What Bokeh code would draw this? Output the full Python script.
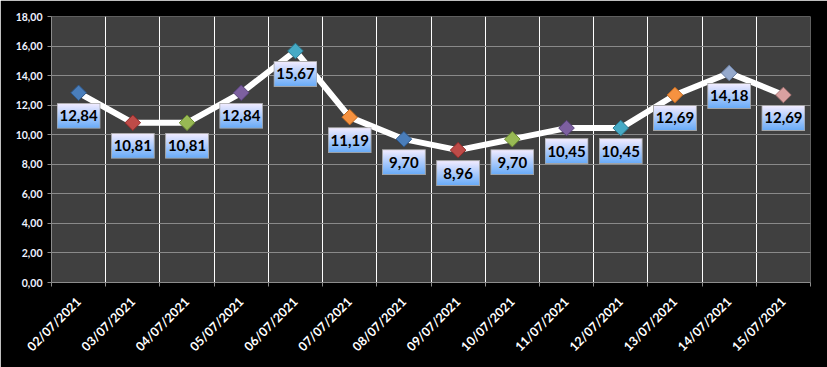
import base64
import numpy as np
from bokeh.plotting import figure
from bokeh.models import ColumnDataSource, Range1d, FixedTicker, LabelSet
from bokeh.core.properties import value
from bokeh.embed import file_html
from bokeh.resources import INLINE

# ---- data ----
dates = ["02/07/2021", "03/07/2021", "04/07/2021", "05/07/2021", "06/07/2021",
         "07/07/2021", "08/07/2021", "09/07/2021", "10/07/2021", "11/07/2021",
         "12/07/2021", "13/07/2021", "14/07/2021", "15/07/2021"]
values = [12.84, 10.81, 10.81, 12.84, 15.67, 11.19, 9.70, 8.96, 9.70, 10.45,
          10.45, 12.69, 14.18, 12.69]
y_ticks = [0, 2, 4, 6, 8, 10, 12, 14, 16, 18]
y_tick_labels = ["0,00", "2,00", "4,00", "6,00", "8,00", "10,00", "12,00",
                 "14,00", "16,00", "18,00"]
marker_fill = ["#4a7ebb", "#be4b48", "#98b954", "#7d60a0", "#46aac5", "#f69240",
               "#4a7ebb", "#be4b48", "#98b954", "#7d60a0", "#46aac5", "#f69240",
               "#95a9cc", "#d9a0a0"]
marker_line = ["#2c5586", "#8c2a28", "#6b8a33", "#564079", "#2a7b92", "#c06a20",
               "#2c5586", "#8c2a28", "#6b8a33", "#564079", "#2a7b92", "#c06a20",
               "#6a7fa3", "#a87575"]

n = len(dates)
xs = [i + 0.5 for i in range(n)]
labels = [f"{v:.2f}".replace(".", ",") for v in values]

# style constants
LABEL_PX = 23
Y_MAX = 18
FRAME_H = 266
dy = LABEL_PX * Y_MAX / FRAME_H

svg = ('<svg xmlns="http://www.w3.org/2000/svg" width="44" height="26">'
       '<defs><linearGradient id="g" x1="0" y1="0" x2="0" y2="1">'
       '<stop offset="0" stop-color="#f3ecff"/><stop offset="1" stop-color="#66aaf8"/>'
       '</linearGradient></defs>'
       '<rect x="0.5" y="0.5" width="43" height="25" fill="url(#g)" stroke="#a6a6a6" stroke-width="1"/>'
       '</svg>')
url = "data:image/svg+xml;base64," + base64.b64encode(svg.encode()).decode()

src = ColumnDataSource(dict(
    x=xs, y=values, lab=labels, fc=marker_fill, lc=marker_line,
    by=[v - dy for v in values], url=[url] * n,
))

p = figure(width=827, height=367, output_backend="svg", toolbar_location=None,
           x_range=Range1d(0, n), y_range=Range1d(0, Y_MAX),
           min_border_left=51, min_border_right=17, min_border_top=16,
           min_border_bottom=85)
p.background_fill_color = "#404040"
p.border_fill_color = "#000000"
p.outline_line_color = None

# axes
p.xaxis.ticker = FixedTicker(ticks=xs, minor_ticks=list(range(n + 1)))
p.xaxis.major_label_overrides = {x: d for x, d in zip(xs, dates)}
p.xaxis.major_label_orientation = np.pi / 4
p.xaxis.major_tick_line_color = None
p.xaxis.minor_tick_line_color = "#8c8c8c"
p.xaxis.minor_tick_in = 0
p.xaxis.minor_tick_out = 4
p.xaxis.axis_line_color = "#8c8c8c"
p.xaxis.major_label_text_color = "#ffffff"
p.xaxis.major_label_text_font = "Lato"
p.xaxis.major_label_text_font_style = "bold"
p.xaxis.major_label_text_font_size = "12.5px"
p.xaxis.major_label_standoff = 11

p.yaxis.ticker = FixedTicker(ticks=y_ticks, minor_ticks=[])
p.yaxis.major_label_overrides = {t: s for t, s in zip(y_ticks, y_tick_labels)}
p.yaxis.major_tick_line_color = "#8c8c8c"
p.yaxis.major_tick_in = 0
p.yaxis.major_tick_out = 4
p.yaxis.axis_line_color = "#8c8c8c"
p.yaxis.major_label_text_color = "#eef2ff"
p.yaxis.major_label_text_font = "Lato"
p.yaxis.major_label_text_font_style = "bold"
p.yaxis.major_label_text_font_size = "10.5px"
p.yaxis.major_label_standoff = 5

# grids
p.ygrid.grid_line_color = "#8a8a8a"
p.ygrid.grid_line_width = 1
p.xgrid.ticker = FixedTicker(ticks=list(range(1, n)))
p.xgrid.grid_line_color = "#ffffff"
p.xgrid.grid_line_width = 1

# line and markers
p.line("x", "y", source=src, line_color="#ffffff", line_width=6,
       line_join="round", line_cap="round")
p.scatter("x", "y", source=src, marker="square", angle=np.pi / 4, size=11,
          fill_color="fc", line_color="lc", line_width=1)

# label boxes
p.image_url(url="url", x="x", y="by", w=44, h=26, w_units="screen",
            h_units="screen", anchor="center", source=src)
p.add_layout(LabelSet(x="x", y="y", text="lab", source=src, y_offset=-LABEL_PX,
                      text_align="center", text_baseline="middle",
                      text_font=value("Lato"), text_font_style="bold",
                      text_font_size="15px", text_color="#000000"))

html = file_html(p, INLINE)
html = html.replace("<body>", '<body style="background:#000000;margin:0;">', 1)
open("out.html", "w").write(html)
